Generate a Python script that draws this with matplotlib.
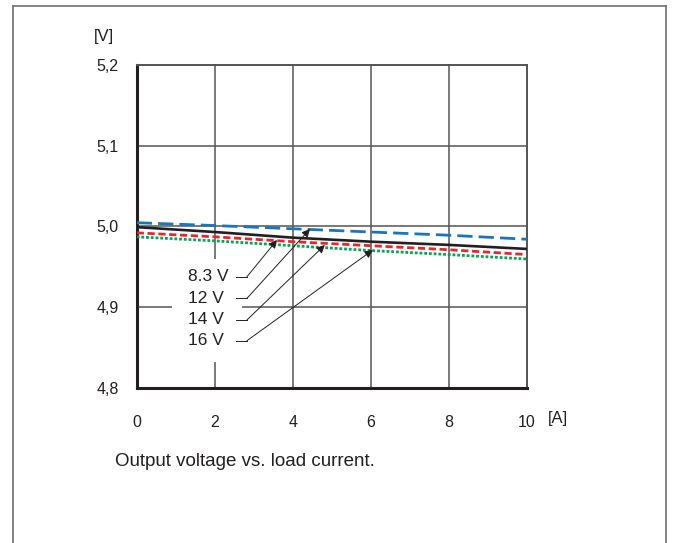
import matplotlib.pyplot as plt
from matplotlib.lines import Line2D
from matplotlib.patches import Rectangle

plt.rcParams['font.family'] = ['Liberation Sans', 'DejaVu Sans']

# load current [A]
current = [0, 2, 4, 6, 8, 10]
# output voltage [V] for each input voltage
v_8_3 = [4.999, 4.993, 4.986, 4.981, 4.977, 4.972]
v_12 = [5.0045, 5.001, 4.997, 4.993, 4.989, 4.984]
v_14 = [4.992, 4.987, 4.981, 4.976, 4.971, 4.965]
v_16 = [4.987, 4.982, 4.976, 4.970, 4.965, 4.9595]

x_ticks = [0, 2, 4, 6, 8, 10]
y_ticks = [4.8, 4.9, 5.0, 5.1, 5.2]
y_labels = ['4,8', '4,9', '5,0', '5,1', '5,2']

labels = ['8.3 V', '12 V', '14 V', '16 V']
label_y = [4.9376, 4.9108, 4.884, 4.8583]
# where each leader arrow points (current, voltage)
arrow_x = [3.595, 4.44, 4.82, 6.05]
arrow_y = [4.9831, 4.9967, 4.9769, 4.9707]

fig = plt.figure(figsize=(6.75, 5.43), dpi=100)
ax = fig.add_axes([0.2025, 0.286, 0.5782, 0.5943])

ax.plot(current, v_8_3, color='#231f20', lw=1.9, solid_capstyle='butt', zorder=5)
ax.plot(current, v_12, color='#1a75bc', lw=2.0, dashes=(5.5, 2.2), zorder=5)
ax.plot(current, v_14, color='#e8262d', lw=2.0, dashes=(2.6, 1.3), zorder=5)
ax.plot(current, v_16, color='#00a650', lw=2.0, dashes=(1.0, 0.7), zorder=5)

ax.set_xlim(0, 10)
ax.set_ylim(4.8, 5.2)
ax.set_xticks(x_ticks)
ax.set_yticks(y_ticks)
ax.set_yticklabels(y_labels)
ax.tick_params(length=0, labelsize=11.5, colors='#231f20')
ax.tick_params(axis='x', pad=20)
ax.tick_params(axis='y', pad=13)
ax.grid(True, color='#555555', lw=1.1)
ax.set_axisbelow(True)

for side in ['left', 'bottom']:
    ax.spines[side].set_linewidth(2.2)
    ax.spines[side].set_color('#231f20')
for side in ['top', 'right']:
    ax.spines[side].set_linewidth(1.4)
    ax.spines[side].set_color('#555555')

# white patch behind the labels hides the grid
ax.add_patch(Rectangle((0.904, 4.8318), 1.794, 0.1277, facecolor='white',
                       edgecolor='none', zorder=2))

for lab, ly, ax_, ay in zip(labels, label_y, arrow_x, arrow_y):
    ax.text(1.32, ly, lab, fontsize=12.5, va='center', ha='left', color='#231f20', zorder=6)
    ax.plot([2.544, 2.826], [ly, ly], color='#231f20', lw=0.7, zorder=6)
    ax.annotate('', xy=(ax_, ay), xytext=(2.826, ly),
                arrowprops=dict(arrowstyle='-|>', lw=0.7, color='#231f20',
                                mutation_scale=12, shrinkA=0, shrinkB=0),
                zorder=6)

fig.text(104 / 675, 1 - 36 / 543, '[V]', fontsize=12, ha='center', va='center', color='#231f20')
fig.text(558 / 675, 1 - 418 / 543, '[A]', fontsize=12, ha='center', va='center', color='#231f20')
fig.text(115 / 675, 1 - 462 / 543, 'Output voltage vs. load current.', fontsize=13.5,
         ha='left', va='center', color='#231f20')

# outer frame
fl, fr, ft = 12.5 / 675, 665.5 / 675, 1 - 5.5 / 543
for xs, ys in [([fl, fl], [-0.1, ft]), ([fl, fr], [ft, ft]), ([fr, fr], [ft, -0.1])]:
    fig.add_artist(Line2D(xs, ys, color='#7a7a7a', lw=1.3))

fig.savefig('out.png', dpi=100)
